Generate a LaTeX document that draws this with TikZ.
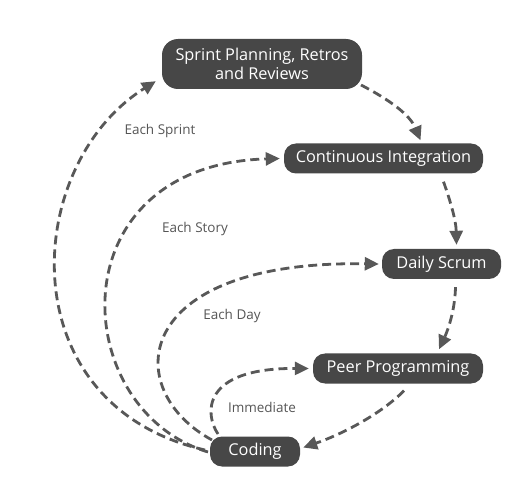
\documentclass[tikz,border=0pt]{standalone}
\usepackage{fontspec}
\setmainfont{Open Sans}
\usetikzlibrary{arrows.meta}
\definecolor{boxc}{HTML}{474747}
\definecolor{linec}{HTML}{585858}
\definecolor{labc}{HTML}{555555}
\begin{document}
\begin{tikzpicture}[x=1pt,y=-1pt,
  box/.style={fill=boxc,text=white,rounded corners=12pt,minimum height=30pt,inner xsep=4pt,inner ysep=3pt,font=\fontsize{16.3}{18.5}\selectfont,align=center},
  flow/.style={draw=linec,line width=2.8pt,dash pattern=on 9pt off 5pt,-{Triangle[length=14pt,width=13pt]}},
  lab/.style={text=labc,font=\fontsize{13.5}{16}\selectfont}]
\useasboundingbox (0,0) rectangle (523,500);
\node[box,rounded corners=16pt,minimum height=50pt,minimum width=200pt] (sprint) at (262,64) {Sprint Planning, Retros\\and Reviews};
\node[box,minimum width=199pt] (ci) at (383.5,158.5) {Continuous Integration};
\node[box,minimum width=119pt] (daily) at (441.5,264) {Daily Scrum};
\node[box,minimum width=170pt] (peer) at (398,368.5) {Peer Programming};
\node[box,minimum width=90pt] (coding) at (255,451.5) {Coding};
\coordinate (c0) at (205,450);
\coordinate (c1) at (208,452);
\coordinate (c2) at (212,440);
\coordinate (c3) at (218,434);
% right chain
\draw[flow] (361,85) .. controls (390,100) and (410,115) .. ([shift={(37,-3)}]ci.north);
\draw[flow] ([shift={(60,8)}]ci.south) .. controls (450,200) and (456,220) .. ([shift={(15,-4)}]daily.north);
\draw[flow] ([shift={(14,8)}]daily.south) .. controls (455,310) and (448,330) .. ([shift={(41,-4)}]peer.north);
\draw[flow] ([shift={(6,7)}]peer.south) .. controls (380,415) and (340,435) .. ([shift={(3,-4)}]coding.east);
% left loops
\draw[flow] (c0) .. controls (8,405) and (22,165) .. ([shift={(-6,-8)}]sprint.south west);
\draw[flow] (c1) .. controls (68,410) and (55,165) .. ([shift={(-4,0)}]ci.west);
\draw[flow] (c2) .. controls (120,390) and (130,260) .. ([shift={(-3,0)}]daily.west);
\draw[flow] (c3) .. controls (205,415) and (200,368) .. ([shift={(-4,0)}]peer.west);
\node[lab] (l1) at (160,131) {Each Sprint};
\node[lab] (l2) at (195,229) {Each Story};
\node[lab] (l3) at (232,316) {Each Day};
\node[lab] (l4) at (262,407) {Immediate};
\end{tikzpicture}
\end{document}
